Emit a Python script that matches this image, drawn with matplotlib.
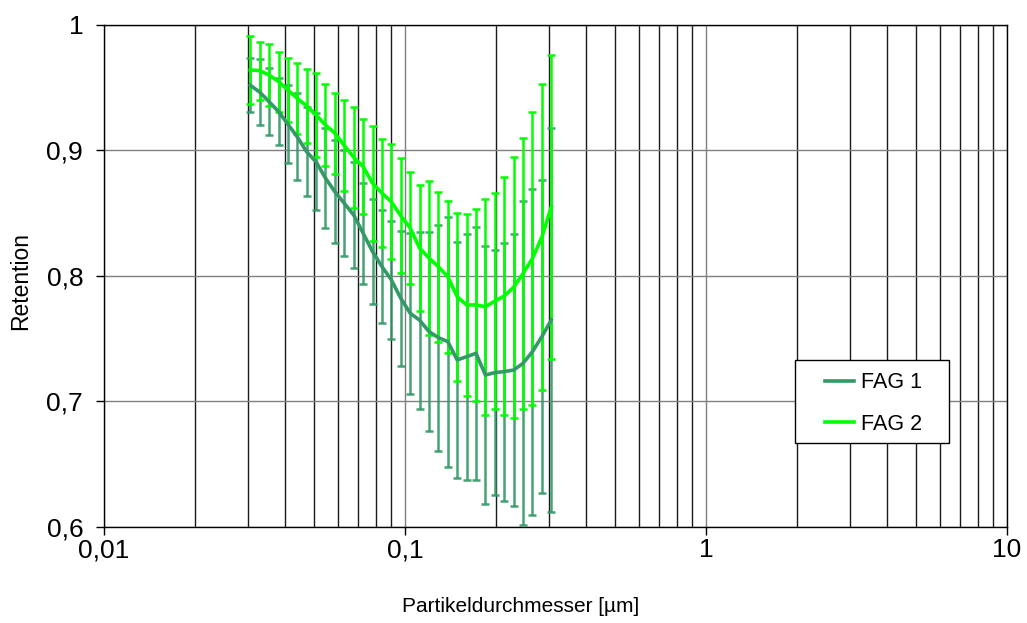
import matplotlib
matplotlib.use("Agg")
from matplotlib import pyplot as plt
from matplotlib.patches import Rectangle
from matplotlib.ticker import FixedLocator, FixedFormatter, LogLocator, NullFormatter

# particle diameter [um], SMPS channels
diam = [0.0306, 0.0329, 0.0353, 0.0380, 0.0408, 0.0438, 0.0471, 0.0506, 0.0544,
        0.0585, 0.0628, 0.0675, 0.0726, 0.0780, 0.0838, 0.0900, 0.0968, 0.1040,
        0.1117, 0.1201, 0.1290, 0.1387, 0.1490, 0.1601, 0.1721, 0.1849, 0.1987,
        0.2135, 0.2295, 0.2466, 0.2650, 0.2848, 0.3060]

fag1 = [0.952, 0.9465, 0.939, 0.931, 0.921, 0.911, 0.899, 0.891, 0.878, 0.867,
        0.858, 0.8486, 0.834, 0.8194, 0.8075, 0.797, 0.7822, 0.7703, 0.7649,
        0.7557, 0.7509, 0.7477, 0.7331, 0.7357, 0.7384, 0.7211, 0.7230, 0.7238,
        0.7251, 0.7304, 0.7397, 0.7517, 0.7649]
fag1_err = [0.0216, 0.0262, 0.0266, 0.027, 0.031, 0.0345, 0.0356, 0.0385, 0.040,
            0.041, 0.042, 0.042, 0.040, 0.042, 0.045, 0.047, 0.054, 0.064, 0.0705,
            0.079, 0.090, 0.0995, 0.094, 0.098, 0.101, 0.103, 0.0976, 0.1028,
            0.108, 0.129, 0.130, 0.125, 0.153]

fag2 = [0.9642, 0.9636, 0.9602, 0.9549, 0.9482, 0.9416, 0.9355, 0.9283, 0.9203,
        0.9137, 0.904, 0.8946, 0.8871, 0.8739, 0.866, 0.8592, 0.848, 0.8382,
        0.8223, 0.8143, 0.8074, 0.7994, 0.7835, 0.7769, 0.7769, 0.7755, 0.780,
        0.784, 0.791, 0.802, 0.814, 0.831, 0.855]
fag2_err = [0.0274, 0.0231, 0.0247, 0.0239, 0.0252, 0.0284, 0.0295, 0.0332, 0.0324,
            0.0321, 0.036, 0.0404, 0.0377, 0.0457, 0.043, 0.0457, 0.046, 0.0447,
            0.0505, 0.0614, 0.0596, 0.0604, 0.067, 0.0725, 0.0768, 0.086, 0.086,
            0.095, 0.104, 0.108, 0.117, 0.122, 0.121]

c1 = "#339966"
c2 = "#00ff00"

plt.rcParams["font.family"] = ["Liberation Sans", "DejaVu Sans"]

fig = plt.figure(figsize=(10.27, 6.23), dpi=100)
ax = fig.add_axes([0.1013, 0.1541, 0.8793, 0.8058])

ax.errorbar(diam, fag1, yerr=fag1_err, fmt="none", ecolor=c1, elinewidth=1.8,
            capsize=3, capthick=1.8, alpha=0.9, zorder=3)
ax.errorbar(diam, fag2, yerr=fag2_err, fmt="none", ecolor=c2, elinewidth=1.8,
            capsize=3, capthick=1.8, zorder=4)
ax.plot(diam, fag1, color=c1, linewidth=2.6, label="FAG 1", zorder=5)
ax.plot(diam, fag2, color=c2, linewidth=2.6, label="FAG 2", zorder=6)

ax.set_xscale("log")
ax.set_xlim(0.01, 10)
ax.set_ylim(0.6, 1.0)

ax.xaxis.set_major_locator(FixedLocator([0.01, 0.1, 1, 10]))
ax.xaxis.set_major_formatter(FixedFormatter(["0,01", "0,1", "1", "10"]))
ax.xaxis.set_minor_locator(LogLocator(base=10, subs=range(2, 10)))
ax.xaxis.set_minor_formatter(NullFormatter())
ax.set_yticks([0.6, 0.7, 0.8, 0.9, 1.0])
ax.set_yticklabels(["0,6", "0,7", "0,8", "0,9", "1"])

ax.grid(True, which="major", axis="both", color="#808080", linewidth=1)
ax.grid(True, which="minor", axis="x", color="#1a1a1a", linewidth=1)
ax.set_axisbelow(True)

ax.tick_params(axis="both", which="major", direction="out", length=6,
               width=1, labelsize=19)
ax.tick_params(axis="x", which="major", pad=2)
ax.tick_params(axis="y", which="major", pad=9)
ax.tick_params(axis="x", which="minor", length=0)
for s in ax.spines.values():
    s.set_color("black")
    s.set_linewidth(1)

fig.text(0.507, 0.026, "Partikeldurchmesser [µm]", fontsize=15,
         ha="center", va="center")
fig.text(0.020, 0.549, "Retention", fontsize=16.5, rotation=90,
         ha="center", va="center")

# legend box
ax.add_patch(Rectangle((0.7652, 0.1673), 0.170, 0.1653, transform=ax.transAxes,
                       facecolor="white", edgecolor="black", linewidth=1,
                       zorder=10, clip_on=False))
leg = ax.legend(loc="upper left", bbox_to_anchor=(0.7985, 0.308),
                fontsize=15.5, frameon=False, handlelength=1.35,
                handletextpad=0.3, borderaxespad=0, borderpad=0,
                labelspacing=0.95)
leg.set_zorder(11)

plt.savefig("out.png", dpi=100)
